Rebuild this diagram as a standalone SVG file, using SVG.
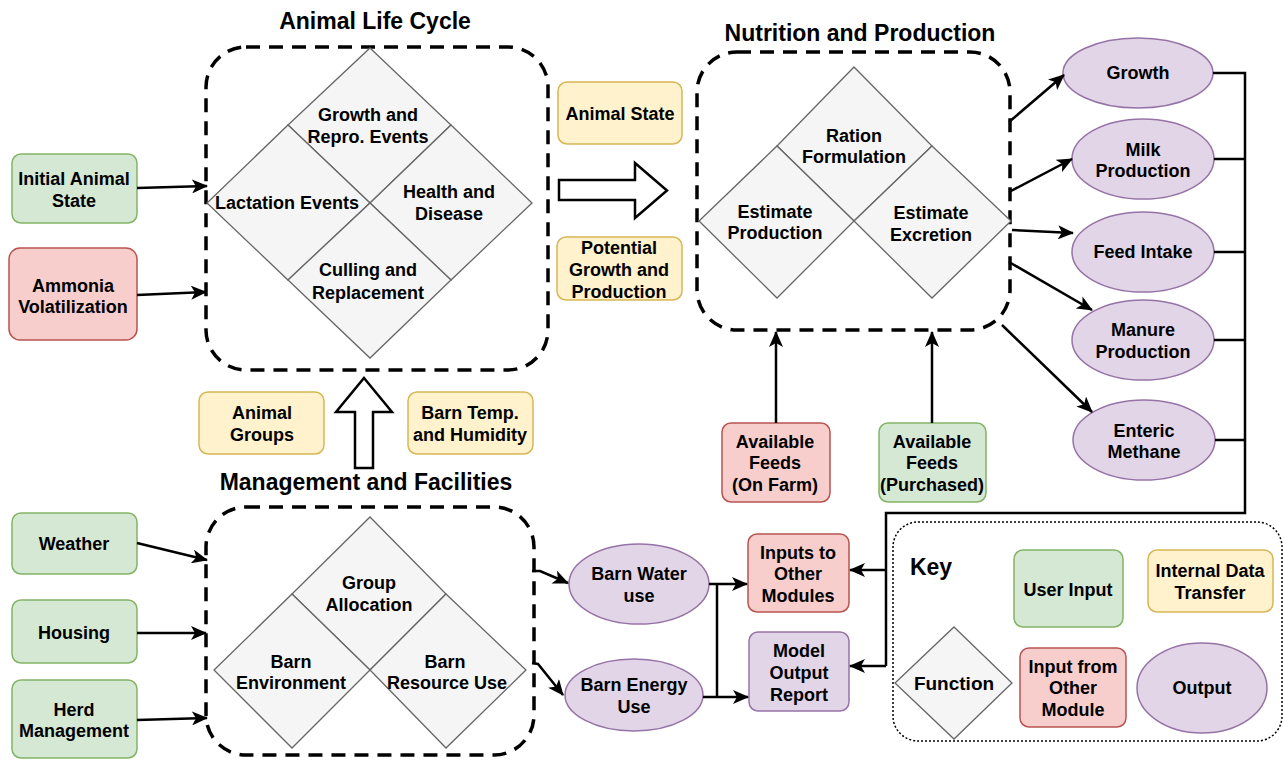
<svg xmlns="http://www.w3.org/2000/svg" width="1283" height="760" viewBox="0 0 1283 760">
<defs>
<marker id="ah" markerUnits="userSpaceOnUse" markerWidth="16" markerHeight="14" refX="15" refY="7" orient="auto">
<path d="M0,0 L16,7 L0,14 L4,7 z" fill="#000"/>
</marker>
<style>
text{font-family:"Liberation Sans",Arial,sans-serif;font-weight:bold;font-size:18px;text-anchor:middle;fill:#000}
.title{font-size:23px}
.key{font-size:23px}
.grp{fill:none;stroke:#000;stroke-width:3.5;stroke-dasharray:14 9}
.dia{fill:#f5f5f5;stroke:#666;stroke-width:1.3}
.g{fill:#d5e8d4;stroke:#82b366;stroke-width:1.5}
.r{fill:#f8cecc;stroke:#b85450;stroke-width:1.5}
.y{fill:#fff2cc;stroke:#d6b656;stroke-width:1.5}
.p{fill:#e1d5e7;stroke:#9673a6;stroke-width:1.5}
.c{fill:none;stroke:#000;stroke-width:2.5}
.ca{fill:none;stroke:#000;stroke-width:2.5;marker-end:url(#ah)}
.hollow{fill:#fff;stroke:#000;stroke-width:2.5}
</style>
</defs>
<rect width="1283" height="760" fill="#fff"/>

<!-- Animal Life Cycle -->
<g id="animal-life-cycle">
<text class="title" x="375" y="29">Animal Life Cycle</text>
<rect class="grp" x="206" y="47" width="342" height="323" rx="40"/>
<polygon class="dia" points="370,48 451,125 370,203 288,125"/>
<polygon class="dia" points="288,125 370,203 288,280 207,203"/>
<polygon class="dia" points="451,125 532,203 451,280 370,203"/>
<polygon class="dia" points="370,203 451,280 370,358 288,280"/>
<text x="368" y="121">Growth and</text>
<text x="368" y="143">Repro. Events</text>
<text x="287" y="209">Lactation Events</text>
<text x="449" y="198">Health and</text>
<text x="449" y="220">Disease</text>
<text x="368" y="276">Culling and</text>
<text x="368" y="299">Replacement</text>
</g>

<!-- Nutrition and Production -->
<g id="nutrition-production">
<text class="title" x="860" y="41">Nutrition and Production</text>
<rect class="grp" x="697" y="52" width="313" height="278" rx="40"/>
<polygon class="dia" points="854,67 932,146 854,221 777,146"/>
<polygon class="dia" points="777,146 854,221 777,298 699,221"/>
<polygon class="dia" points="932,146 1011,221 932,298 854,221"/>
<text x="854" y="142">Ration</text>
<text x="854" y="163">Formulation</text>
<text x="775" y="218">Estimate</text>
<text x="775" y="239">Production</text>
<text x="931" y="219">Estimate</text>
<text x="931" y="241">Excretion</text>
</g>

<!-- Management and Facilities -->
<g id="management-facilities">
<text class="title" x="366" y="490">Management and Facilities</text>
<rect class="grp" x="206" y="507" width="328" height="248" rx="40"/>
<polygon class="dia" points="370,517 446,594 370,670 292,594"/>
<polygon class="dia" points="292,594 370,670 292,748 214,670"/>
<polygon class="dia" points="446,594 526,670 446,748 370,670"/>
<text x="369" y="589">Group</text>
<text x="369" y="611">Allocation</text>
<text x="291" y="668">Barn</text>
<text x="291" y="689">Environment</text>
<text x="445" y="668">Barn</text>
<text x="447" y="689">Resource Use</text>
</g>

<!-- Inputs (left) -->
<g id="initial-animal-state"><rect class="g" x="12" y="154" width="125" height="69" rx="9"/><text x="74" y="185">Initial Animal</text><text x="74" y="207">State</text></g>
<g id="ammonia-volatilization"><rect class="r" x="9" y="248" width="128" height="92" rx="11"/><text x="73" y="292">Ammonia</text><text x="73" y="313">Volatilization</text></g>
<g id="weather"><rect class="g" x="12" y="513" width="125" height="61" rx="9"/><text x="74" y="550">Weather</text></g>
<g id="housing"><rect class="g" x="12" y="600" width="125" height="63" rx="9"/><text x="74" y="639">Housing</text></g>
<g id="herd-management"><rect class="g" x="12" y="680" width="125" height="78" rx="9"/><text x="74" y="716">Herd</text><text x="74" y="737">Management</text></g>

<!-- Internal data transfer -->
<g id="animal-state"><rect class="y" x="558" y="82" width="124" height="62" rx="9"/><text x="620" y="120">Animal State</text></g>
<g id="potential-growth"><rect class="y" x="557" y="237" width="125" height="63" rx="9"/><text x="619" y="254">Potential</text><text x="619" y="276">Growth and</text><text x="619" y="298">Production</text></g>
<g id="animal-groups"><rect class="y" x="199" y="392" width="125" height="62" rx="9"/><text x="262" y="419">Animal</text><text x="262" y="441">Groups</text></g>
<g id="barn-temp"><rect class="y" x="408" y="392" width="125" height="62" rx="9"/><text x="470" y="419">Barn Temp.</text><text x="470" y="441">and Humidity</text></g>

<!-- Feeds -->
<g id="feeds-on-farm"><rect class="r" x="722" y="423" width="108" height="79" rx="9"/><text x="775" y="448">Available</text><text x="775" y="469">Feeds</text><text x="775" y="491">(On Farm)</text></g>
<g id="feeds-purchased"><rect class="g" x="879" y="423" width="107" height="79" rx="9"/><text x="932" y="448">Available</text><text x="932" y="469">Feeds</text><text x="932" y="491">(Purchased)</text></g>

<!-- Outputs -->
<g id="growth"><ellipse class="p" cx="1138" cy="73" rx="75" ry="35"/><text x="1138" y="79">Growth</text></g>
<g id="milk-production"><ellipse class="p" cx="1143" cy="159" rx="71" ry="40"/><text x="1143" y="156">Milk</text><text x="1143" y="177">Production</text></g>
<g id="feed-intake"><ellipse class="p" cx="1143" cy="252" rx="71" ry="40"/><text x="1143" y="258">Feed Intake</text></g>
<g id="manure-production"><ellipse class="p" cx="1143" cy="340" rx="71" ry="40"/><text x="1143" y="336">Manure</text><text x="1143" y="358">Production</text></g>
<g id="enteric-methane"><ellipse class="p" cx="1144" cy="440" rx="71" ry="40"/><text x="1144" y="437">Enteric</text><text x="1144" y="458">Methane</text></g>
<g id="barn-water"><ellipse class="p" cx="639" cy="584" rx="70" ry="40"/><text x="639" y="580">Barn Water</text><text x="639" y="602">use</text></g>
<g id="barn-energy"><ellipse class="p" cx="634" cy="695" rx="69" ry="36"/><text x="634" y="691">Barn Energy</text><text x="634" y="713">Use</text></g>
<g id="inputs-other-modules"><rect class="r" x="748" y="534" width="101" height="78" rx="9"/><text x="798" y="559">Inputs to</text><text x="798" y="580">Other</text><text x="798" y="602">Modules</text></g>
<g id="model-output-report"><rect class="p" x="749" y="632" width="100" height="79" rx="9"/><text x="799" y="657">Model</text><text x="799" y="679">Output</text><text x="799" y="701">Report</text></g>

<!-- Hollow arrows -->
<g id="flow-arrows">
<polygon class="hollow" points="559,180 635,180 635,163 667,190.5 635,218 635,200 559,200"/>
<polygon class="hollow" points="364,378 392,412 373,412 373,468 355,468 355,412 336,412"/>
</g>

<!-- Connectors -->
<g id="connectors">
<line class="ca" x1="137" y1="188" x2="207" y2="186"/>
<line class="ca" x1="137" y1="295" x2="206" y2="292"/>
<line class="ca" x1="137" y1="543" x2="207" y2="560"/>
<line class="ca" x1="137" y1="633" x2="206" y2="633"/>
<line class="ca" x1="137" y1="720" x2="207" y2="718"/>
<line class="ca" x1="1009" y1="122" x2="1064" y2="75"/>
<line class="ca" x1="1009" y1="192" x2="1072" y2="159"/>
<line class="ca" x1="1012" y1="230" x2="1073" y2="233"/>
<line class="ca" x1="1009" y1="262" x2="1092" y2="310"/>
<line class="ca" x1="1002" y1="325" x2="1092" y2="412"/>
<line class="ca" x1="776" y1="423" x2="776" y2="332"/>
<line class="ca" x1="932" y1="423" x2="932" y2="332"/>
<path class="c" d="M1213,73 H1245 V513 H886 V666"/>
<line class="c" x1="1214" y1="159" x2="1245" y2="159"/>
<line class="c" x1="1214" y1="252" x2="1245" y2="252"/>
<line class="c" x1="1214" y1="340" x2="1245" y2="340"/>
<line class="c" x1="1215" y1="440" x2="1245" y2="440"/>
<line class="ca" x1="886" y1="570" x2="850" y2="570"/>
<line class="ca" x1="886" y1="666" x2="850" y2="666"/>
<line class="ca" x1="709" y1="584" x2="747" y2="584"/>
<line class="ca" x1="703" y1="697" x2="748" y2="697"/>
<line class="c" x1="717" y1="584" x2="717" y2="697"/>
<path class="ca" d="M532,571 L540,571 L568,583"/>
<path class="ca" d="M532,663 L538,664 L563,695"/>
</g>

<!-- Key -->
<g id="key">
<rect x="893" y="522" width="389" height="219" rx="25" fill="#fff" stroke="#000" stroke-width="1.5" stroke-dasharray="2 2"/>
<text class="key" x="931" y="575">Key</text>
<rect class="g" x="1014" y="550" width="109" height="77" rx="9"/><text x="1068" y="596">User Input</text>
<rect class="y" x="1148" y="550" width="125" height="62" rx="9"/><text x="1210" y="577">Internal Data</text><text x="1210" y="599">Transfer</text>
<polygon class="dia" points="954,627 1012,683 954,739 895,683"/><text x="954" y="690" style="font-size:19px">Function</text>
<rect class="r" x="1020" y="648" width="106" height="79" rx="9"/><text x="1073" y="673">Input from</text><text x="1073" y="694">Other</text><text x="1073" y="716">Module</text>
<ellipse class="p" cx="1202" cy="688" rx="65" ry="45"/><text x="1202" y="694">Output</text>
</g>
</svg>
